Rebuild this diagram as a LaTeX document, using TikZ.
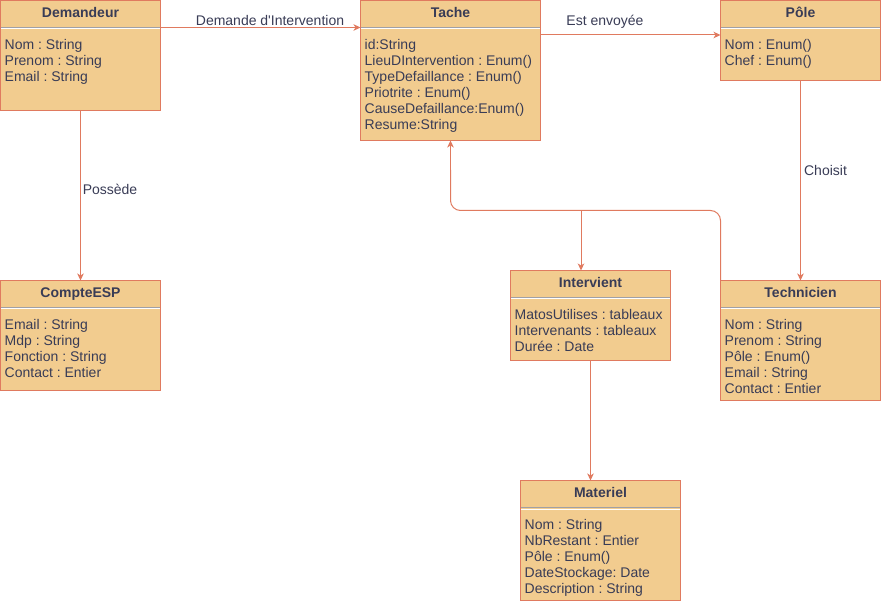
\documentclass[tikz,border=0pt]{standalone}
\usepackage{fontspec}
\setmainfont{Liberation Sans}
\usetikzlibrary{arrows.meta,calc}
\frenchspacing

\definecolor{boxfill}{HTML}{F2CC8F}
\definecolor{boxline}{HTML}{E07A5F}
\definecolor{ink}{HTML}{393C56}
\definecolor{sepline}{HTML}{A0A0A6}

\tikzset{
  classbox/.style={draw=boxline, fill=boxfill, line width=1pt, anchor=north west,
    inner sep=0pt, outer sep=0pt},
  classtitle/.style={anchor=base, inner sep=0pt, text=ink,
    font=\fontsize{14}{16}\selectfont\bfseries},
  attr/.style={anchor=base west, inner sep=0pt, text=ink,
    font=\fontsize{14}{16}\selectfont},
  edgelabel/.style={anchor=base, inner sep=0pt, text=ink,
    font=\fontsize{14}{16}\selectfont},
  conn/.style={draw=boxline, line width=1pt,
    -{Stealth[length=7pt,width=6.5pt,inset=2pt]}},
}

% #1 name, #2 x, #3 y, #4 width, #5 height, #6 title, #7 attributes
\newcommand\umlclass[7]{%
  \node[classbox, minimum width=#4pt, minimum height=#5pt] (#1) at (#2,#3) {};
  \node[classtitle] (#1-t) at (#2+#4/2,#3+17) {#6};
  \draw[sepline, line width=1pt] (#2+0.5,#3+27) -- (#2+#4-0.5,#3+27);
  \draw[white, line width=1pt] (#2+0.5,#3+28.5) -- (#2+#4-0.5,#3+28.5);
  \foreach \a [count=\i] in {#7}
    \node[attr] (#1-\i) at (#2+4,#3+33+16*\i) {\a};
}

\begin{document}
\begin{tikzpicture}[x=1pt,y=-1pt]
\useasboundingbox[fill=white] (0,0) rectangle (881,601);

\umlclass{dem}{0.5}{0.5}{160}{110}{Demandeur}{Nom : String, Prenom : String, Email : String}
\umlclass{tache}{360.5}{0.5}{180}{140}{Tache}{id:String, LieuDIntervention : Enum(), TypeDefaillance : Enum(), Priotrite : Enum(), CauseDefaillance:Enum(), Resume:String}
\umlclass{pole}{720.5}{0.5}{160}{80}{Pôle}{Nom : Enum(), Chef : Enum()}
\umlclass{compte}{0.5}{280.5}{160}{110}{CompteESP}{Email : String, Mdp : String, Fonction : String, Contact : Entier}
\umlclass{interv}{510.5}{270.5}{160}{90}{Intervient}{MatosUtilises : tableaux, Intervenants : tableaux, Durée : Date}
\umlclass{tech}{720.5}{280.5}{160}{120}{Technicien}{Nom : String, Prenom : String, Pôle : Enum(), Email : String, Contact : Entier}
\umlclass{mat}{520.5}{480.5}{160}{120}{Materiel}{Nom : String, NbRestant : Entier, Pôle : Enum(), DateStockage: Date, Description : String}

% associations
\coordinate (d1) at ($(dem.north east)+(0,27)$);
\draw[conn] (d1) -- (tache.west |- d1);
\node[edgelabel] (l1) at (270,26) {Demande d\textquotesingle Intervention};

\coordinate (t1) at ($(tache.north east)+(0,34.5)$);
\draw[conn] (t1) -- (pole.west |- t1);
\node[edgelabel] (l2) at (605,26) {Est envoyée};

\draw[conn] (dem.south -| 80.5,0) -- (compte.north -| 80.5,0);
\node[edgelabel] (l3) at (110,195) {Possède};

\draw[conn] (pole.south) -- (tech.north);
\node[edgelabel] (l4) at (825.5,176) {Choisit};

% association class link between Technicien and Tache
\coordinate (j) at (581,210.5);
\coordinate (tb) at (450.5,140.5);
\draw[draw=boxline, line width=1pt, rounded corners=10pt]
  (tech.north west) -- (tech.north west |- j) -- (j) -- (tb |- j) -- (450.5,170);
\draw[conn] (450.5,171) -- (tb);
\draw[conn] (j) -- (interv.north -| j);

\draw[conn] (interv.south -| 590.5,0) -- (mat.north -| 590.5,0);
\end{tikzpicture}
\end{document}
